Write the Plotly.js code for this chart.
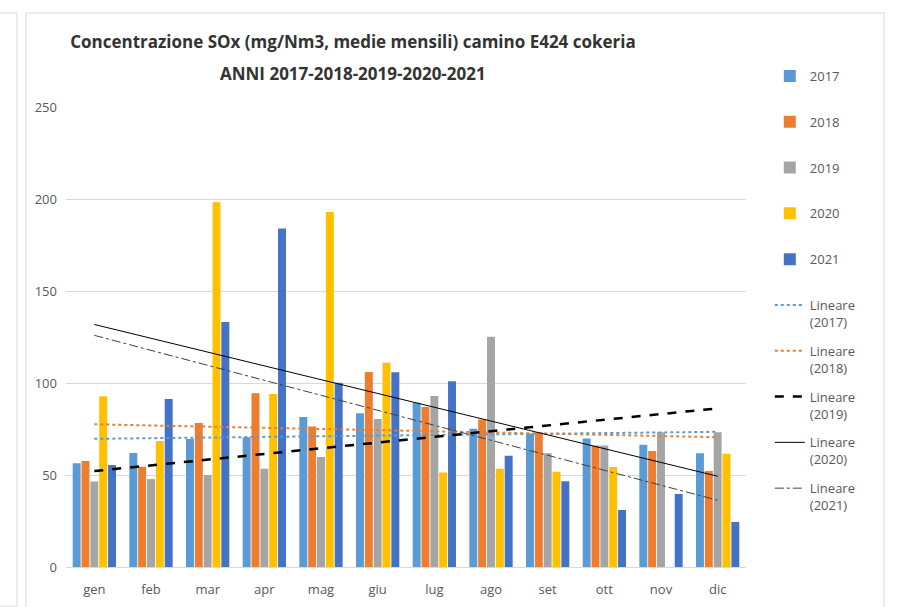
<!DOCTYPE html>
<html>
<head>
<meta charset="utf-8">
<script src="https://cdn.plot.ly/plotly-3.0.1.min.js"></script>
<style>
  html, body { margin: 0; padding: 0; background: #ffffff; }
  #chart { width: 901px; height: 607px; }
</style>
</head>
<body>
<div id="chart"></div>
<script>
const months = ['gen','feb','mar','apr','mag','giu','lug','ago','set','ott','nov','dic'];
const years = ['2017','2018','2019','2020','2021'];
const y2017 = [56.4, 62.0, 69.6, 70.5, 81.5, 83.5, 89.3, 75.2, 72.6, 69.9, 66.5, 61.8];
const y2018 = [57.6, 54.5, 78.3, 94.4, 76.3, 106.0, 87.0, 80.2, 73.2, 66.0, 63.0, 52.2];
const y2019 = [46.4, 47.8, 50.0, 53.4, 59.8, 80.4, 92.9, 125.2, 61.8, 66.0, 73.2, 73.2];
const y2020 = [92.8, 68.5, 198.2, 94.0, 192.9, 111.0, 51.4, 53.4, 51.8, 54.3, null, 61.6];
const y2021 = [55.4, 91.3, 133.2, 183.9, 100.2, 105.8, 101.0, 60.5, 46.6, 31.0, 39.7, 24.5];
const yTicks = [0, 50, 100, 150, 200, 250];
const titleLine1 = 'Concentrazione SOx (mg/Nm3, medie mensili) camino E424 cokeria';
const titleLine2 = 'ANNI 2017-2018-2019-2020-2021';

const series = [y2017, y2018, y2019, y2020, y2021];
const barColors = ['#5B9BD5', '#ED7D31', '#A5A5A5', '#FFC000', '#4472C4'];

// Excel-style linear trendline (least squares over the non-empty points)
function linearFit(vals) {
  const pts = [];
  vals.forEach((v, i) => { if (v !== null) pts.push([i + 1, v]); });
  const n = pts.length;
  const mx = pts.reduce((s, p) => s + p[0], 0) / n;
  const my = pts.reduce((s, p) => s + p[1], 0) / n;
  let sxy = 0, sxx = 0;
  pts.forEach(p => { sxy += (p[0] - mx) * (p[1] - my); sxx += (p[0] - mx) * (p[0] - mx); });
  const b = sxy / sxx, a = my - b * mx;
  return months.map((m, i) => a + b * (i + 1));
}

const trendStyles = [
  {color: '#5B9BD5', width: 2, dash: 'dot'},
  {color: '#ED7D31', width: 2, dash: 'dot'},
  {color: '#000000', width: 2.5, dash: 'dash'},
  {color: '#000000', width: 1, dash: 'solid'},
  {color: '#404040', width: 1, dash: 'dashdot'}
];

const traces = [];
series.forEach((vals, k) => {
  traces.push({
    type: 'bar', x: months, y: vals, name: years[k] + '<br>\u00a0',
    legendgroup: 'b' + k,
    marker: {color: barColors[k], line: {width: 0}},
    hoverinfo: 'x+y'
  });
});
series.forEach((vals, k) => {
  traces.push({
    type: 'scatter', mode: 'lines', x: months, y: linearFit(vals),
    name: 'Lineare<br>(' + years[k] + ')',
    legendgroup: 't' + k,
    line: trendStyles[k],
    hoverinfo: 'skip'
  });
});

const fontFam = '"Open Sans", "Liberation Sans", sans-serif';
const titleX = (353 - 66) / 680;

const layout = {
  width: 901, height: 607,
  paper_bgcolor: '#ffffff', plot_bgcolor: '#ffffff',
  margin: {l: 66, r: 155, t: 107, b: 40},
  font: {family: fontFam, color: '#595959', size: 12},
  title: {
    text: '<b>' + titleLine1 + '</b>',
    font: {family: fontFam, size: 17, color: '#333333'},
    x: titleX, xanchor: 'center', xref: 'paper',
    y: 1 - 42 / 607, yanchor: 'middle', yref: 'container'
  },
  annotations: [{
    text: '<b>' + titleLine2 + '</b>', showarrow: false,
    font: {family: fontFam, size: 17, color: '#333333'},
    xref: 'paper', yref: 'paper', x: titleX, xanchor: 'center',
    y: (567 - 73) / 460, yanchor: 'middle'
  }],
  barmode: 'group', bargap: 0.22, bargroupgap: 0.1,
  xaxis: {
    type: 'category', tickfont: {size: 13, color: '#595959'},
    showgrid: false, showline: true, linecolor: '#D9D9D9', linewidth: 1,
    ticks: '', zeroline: false, fixedrange: true, ticklabelstandoff: 10
  },
  yaxis: {
    range: [0, 250], tickvals: yTicks, ticktext: yTicks.map(String),
    tickfont: {size: 13, color: '#595959'},
    showgrid: true, gridcolor: '#D9D9D9', gridwidth: 1,
    zeroline: false, showline: false, ticks: '', ticklen: 0, fixedrange: true,
    ticklabelstandoff: 8
  },
  showlegend: true,
  legend: {
    x: 1.035, xanchor: 'left', yref: 'paper', y: (567 - 61) / 460, yanchor: 'top',
    traceorder: 'grouped', tracegroupgap: 9, valign: 'top', maxheight: 560,
    font: {family: fontFam, size: 13, color: '#595959'},
    bgcolor: 'rgba(0,0,0,0)', itemwidth: 30
  },
  shapes: [
    {type: 'rect', xref: 'x domain', yref: 'y domain', x0: (26 - 66) / 680, x1: (884 - 66) / 680,
     y0: (567 - 640) / 460, y1: (567 - 13) / 460, line: {color: '#D9D9D9', width: 1}, fillcolor: 'rgba(0,0,0,0)', layer: 'below'},
    {type: 'rect', xref: 'x domain', yref: 'y domain', x0: (-20 - 66) / 680, x1: (17 - 66) / 680,
     y0: (567 - 606) / 460, y1: (567 - 13) / 460, line: {color: '#D9D9D9', width: 1}, fillcolor: 'rgba(0,0,0,0)', layer: 'below'}
  ]
};

Plotly.newPlot('chart', traces, layout, {displayModeBar: false, responsive: false});
</script>
</body>
</html>
